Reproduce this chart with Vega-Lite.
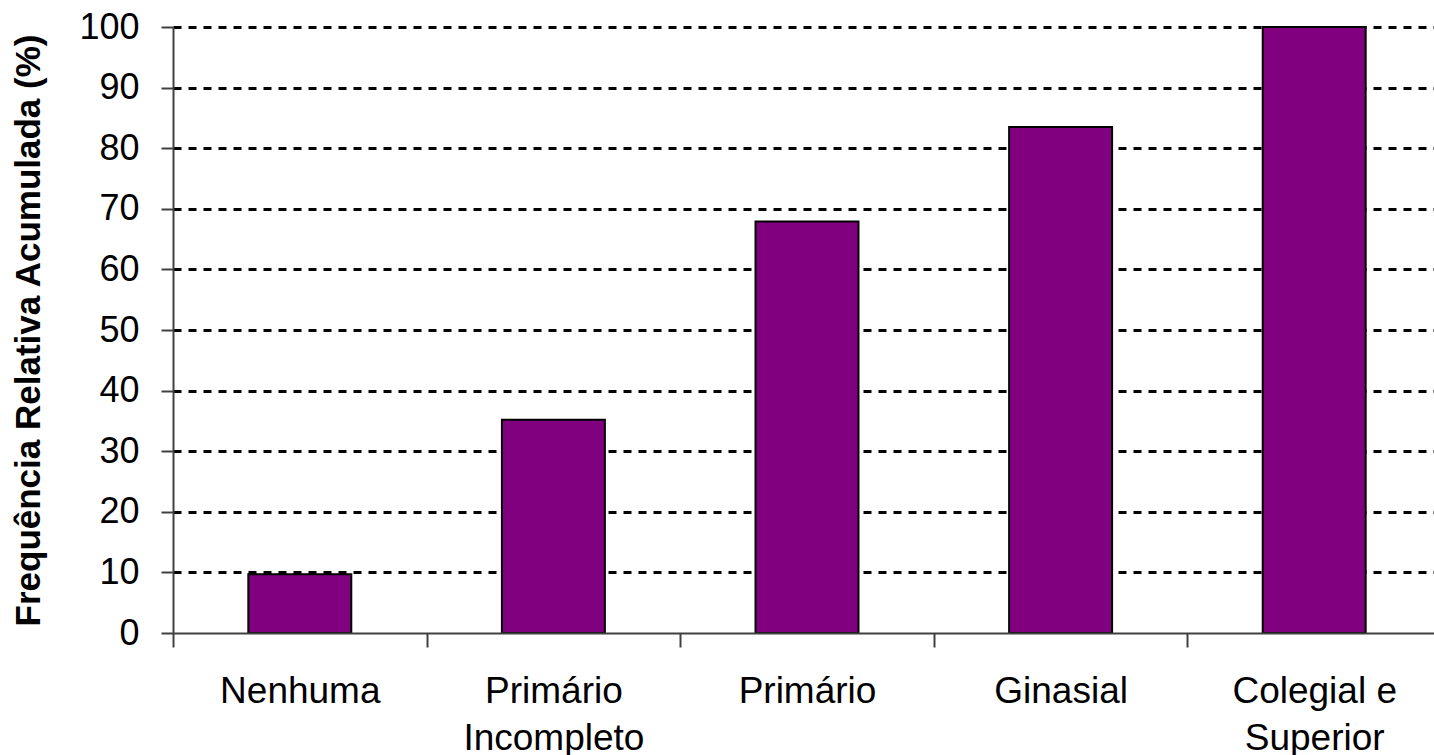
{
  "$schema": "https://vega.github.io/schema/vega-lite/v6.json",
  "autosize": {"type": "none"},
  "padding": {"left": 173, "top": 27, "right": 0, "bottom": 122},
  "width": 1268,
  "height": 606,
  "background": "white",
  "data": {
    "values": [
      {"escolaridade": "Nenhuma", "freq": 9.7},
      {"escolaridade": "Primário Incompleto", "freq": 35.2},
      {"escolaridade": "Primário", "freq": 67.9},
      {"escolaridade": "Ginasial", "freq": 83.5},
      {"escolaridade": "Colegial e Superior", "freq": 100}
    ]
  },
  "mark": {"type": "bar", "color": "#800080", "stroke": "#000000", "strokeWidth": 2, "width": {"band": 0.406}},
  "encoding": {
    "x": {
      "field": "escolaridade",
      "type": "nominal",
      "sort": null,
      "scale": {"paddingInner": 0, "paddingOuter": 0},
      "axis": {
        "title": null,
        "labelAngle": 0,
        "labelExpr": "datum.value == 'Primário Incompleto' ? ['Primário', 'Incompleto'] : datum.value == 'Colegial e Superior' ? ['Colegial e', 'Superior'] : datum.value",
        "labelFont": "Liberation Sans",
        "labelFontSize": 37,
        "labelColor": "#000000",
        "labelLineHeight": 47,
        "labelPadding": 26,
        "labelBaseline": "top",
        "labelLimit": 0,
        "tickBand": "extent",
        "tickSize": 14,
        "tickWidth": 2,
        "tickColor": "#404040",
        "domainColor": "#404040",
        "domainWidth": 2,
        "grid": false,
        "zindex": 1
      }
    },
    "y": {
      "field": "freq",
      "type": "quantitative",
      "scale": {"domain": [0, 100], "nice": false},
      "axis": {
        "title": "Frequência Relativa Acumulada (%)",
        "titleFont": "Liberation Sans",
        "titleFontSize": 35,
        "titleFontWeight": "bold",
        "titleColor": "#000000",
        "titlePadding": 32,
        "values": [0, 10, 20, 30, 40, 50, 60, 70, 80, 90, 100],
        "labelFont": "Liberation Sans",
        "labelFontSize": 36,
        "labelColor": "#000000",
        "labelPadding": 22,
        "labelFlush": false,
        "labelOverlap": false,
        "tickSize": 12,
        "tickWidth": 2,
        "tickColor": "#404040",
        "domainColor": "#404040",
        "domainWidth": 2,
        "grid": true,
        "gridColor": "#000000",
        "gridWidth": 3,
        "gridDash": [8, 7],
        "gridOpacity": {"condition": {"test": "datum.value == 0", "value": 0}, "value": 1}
      }
    }
  },
  "config": {"view": {"stroke": null}}
}
